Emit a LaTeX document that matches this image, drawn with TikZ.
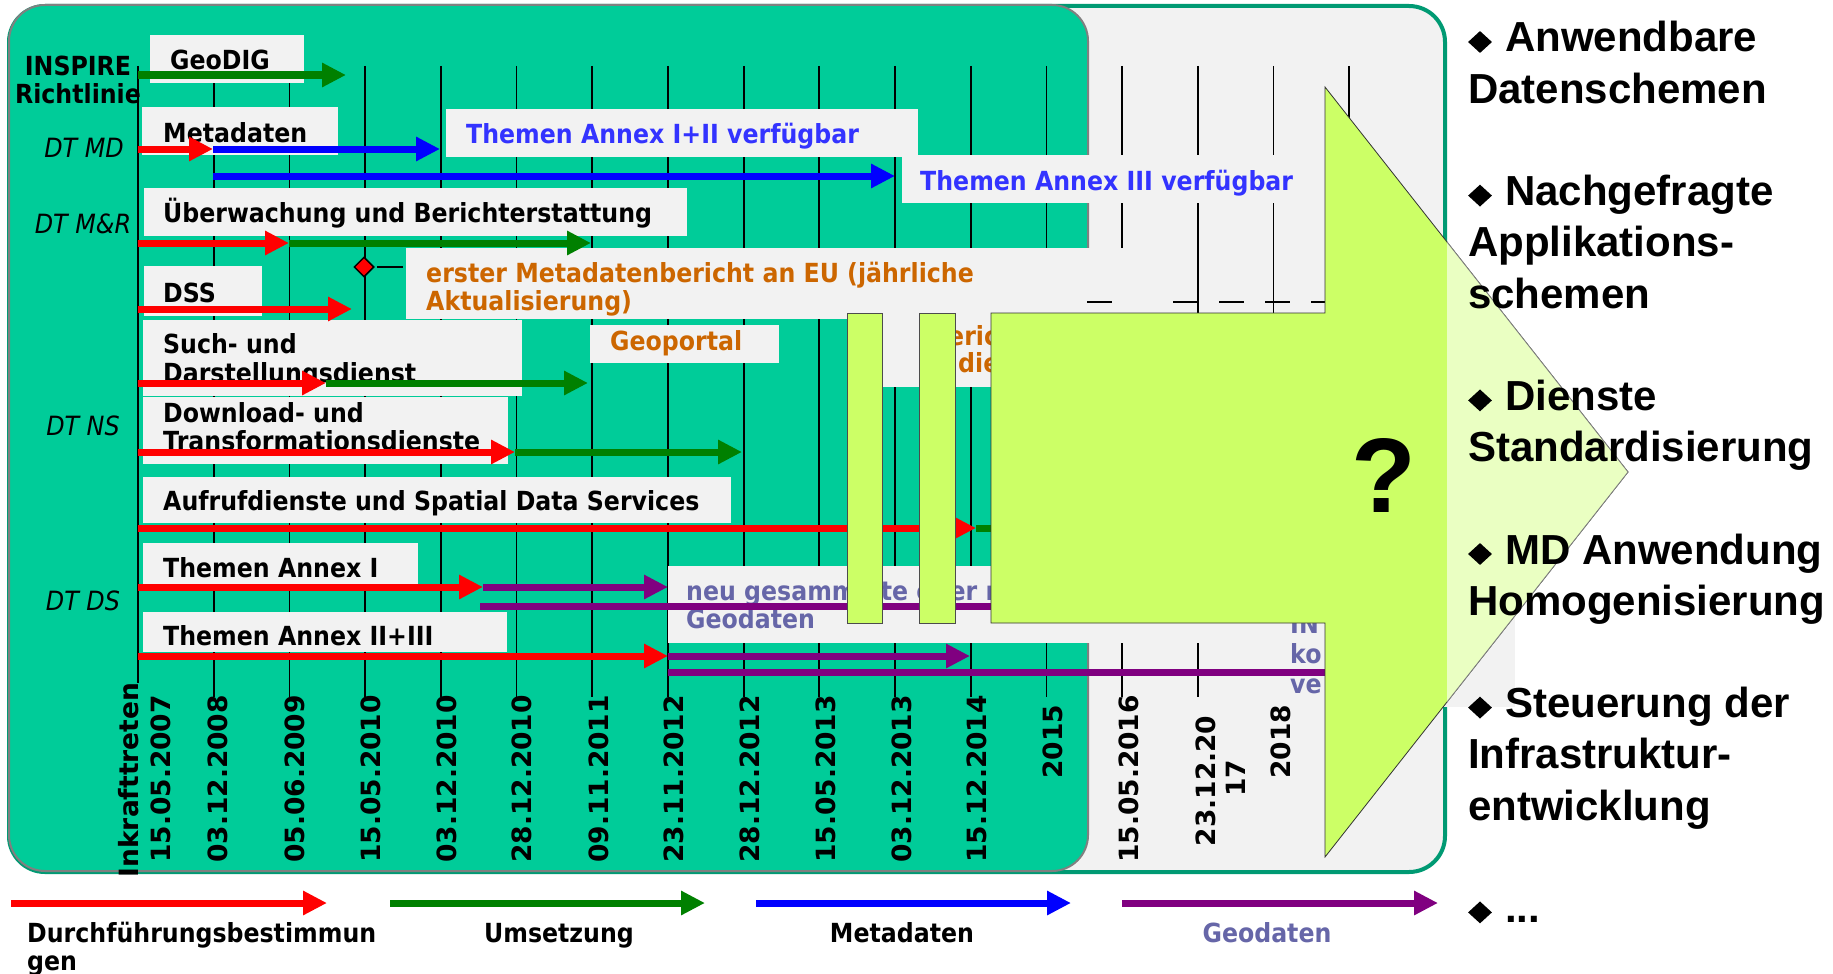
\documentclass[tikz,border=0pt]{standalone}
\usepackage{fontspec}
\usetikzlibrary{arrows.meta,shapes.geometric}
\setmainfont{DejaVu Sans}
\newfontfamily\lblfont[FakeStretch=0.9]{DejaVu Sans}
\newfontfamily\datefont{DejaVu Sans}
\newfontfamily\arialfont{Liberation Sans}
\definecolor{panelgreen}{HTML}{00CC99}
\definecolor{framegreen}{HTML}{009A73}
\definecolor{boxgray}{HTML}{F2F2F2}
\definecolor{umsgreen}{HTML}{008000}
\definecolor{geopurple}{HTML}{800080}
\definecolor{annexblue}{HTML}{3333FF}
\definecolor{noteorange}{HTML}{CC6600}
\definecolor{geogray}{HTML}{6666A8}
\definecolor{lime}{HTML}{CCFF66}
\definecolor{limepale}{HTML}{EAFFC2}
\tikzset{
  tickline/.style={black, line width=1.8pt},
  tl/.style={line width=7pt, -{Triangle[length=24pt,width=23pt]}},
  tlplain/.style={line width=7pt},
  lbl/.style={inner sep=0pt, anchor=base west, font=\lblfont\bfseries\fontsize{26.3pt}{28.5pt}\selectfont},
  dtlbl/.style={inner sep=0pt, anchor=base, font=\lblfont\itshape\fontsize{26.5pt}{28pt}\selectfont},
  datelbl/.style={inner sep=0pt, rotate=90, font=\datefont\bfseries\fontsize{26.5pt}{30pt}\selectfont},
  limebar/.style={fill=lime, draw=black!70, line width=0.8pt},
  bigarrow/.style={fill=lime, draw=black!80, line width=0.8pt},
  bulmark/.style={diamond, fill=black, inner sep=0pt, minimum width=24pt, minimum height=22pt},
  bultext/.style={inner sep=0pt, anchor=base west, font=\arialfont\bfseries\fontsize{42pt}{50pt}\selectfont},
  qmark/.style={inner sep=0pt, anchor=base, font=\arialfont\bfseries\fontsize{106pt}{110pt}\selectfont},
}
\begin{document}
\begin{tikzpicture}[x=1pt, y=-1pt]
  \useasboundingbox (0,0) rectangle (1833,974);
  \fill[white] (0,0) rectangle (1833,974);

  % frames
  \draw[fill=boxgray, draw=framegreen, line width=4pt, rounded corners=36pt] (9,6) rectangle (1445,872);
  \draw[fill=panelgreen, draw=gray, line width=2pt, rounded corners=36pt] (9,5) rectangle (1088,871);

  % timeline ticks
  \foreach \i in {1,...,16}
    \draw[tickline] (138+75.7*\i,66) -- (138+75.7*\i,697);
  \draw[tickline] (138,66) -- (138,683);

  % label boxes
  \fill[boxgray] (150,35) rectangle (304,83);
  \fill[boxgray] (142,107) rectangle (338,155);
  \fill[boxgray] (446,109) rectangle (918,157);
  \fill[boxgray] (902,155) rectangle (1325,203);
  \fill[boxgray] (144,188) rectangle (687,236);
  \fill[boxgray] (144,266) rectangle (262,316);
  \fill[boxgray] (406,248) rectangle (1157,319);
  \fill[boxgray] (852,300) rectangle (1000,387);
  \fill[boxgray] (143,320) rectangle (522,396);
  \fill[boxgray] (590,325) rectangle (779,363);
  \fill[boxgray] (143,397) rectangle (508,464);
  \fill[boxgray] (143,477) rectangle (731,523);
  \fill[boxgray] (143,543) rectangle (418,590);
  \fill[boxgray] (668,566) rectangle (1265,643);
  \fill[boxgray] (143,612) rectangle (507,652);
  \fill[boxgray] (1265,590) rectangle (1515,707);

  % row titles
  \node[lbl, anchor=base] (inspire) at (78,75) {INSPIRE};
  \node[lbl, anchor=base] (richtl) at (78,103) {Richtlinie};
  \node[dtlbl] (dtmd) at (84,157) {DT MD};
  \node[dtlbl] (dtmr) at (83,233) {DT M\&R};
  \node[dtlbl] (dtns) at (83,435) {DT NS};
  \node[dtlbl] (dtds) at (83,610) {DT DS};

  % box texts
  \node[lbl] (geodig) at (170,70) {GeoDIG};
  \node[lbl] (metadaten) at (163,142) {Metadaten};
  \node[lbl, text=annexblue] (annex12) at (466,143) {Themen Annex I+II verfügbar};
  \node[lbl, text=annexblue] (annex3) at (920,190) {Themen Annex III verfügbar};
  \node[lbl] (ueberw) at (163,222) {Überwachung und Berichterstattung};
  \node[lbl] (dss) at (163,302) {DSS};
  \node[lbl, text=noteorange] (erster1) at (426,282) {erster Metadatenbericht an EU (jährliche};
  \node[lbl, text=noteorange] (erster2) at (426,310) {Aktualisierung)};
  \node[lbl] (such1) at (163,353) {Such- und};
  \node[lbl] (such2) at (163,382) {Darstellungsdienst};
  \node[lbl, text=noteorange] (geoportal) at (610,350) {Geoportal};
  \node[lbl, text=noteorange] (beric1) at (948,345) {eric};
  \node[lbl, text=noteorange] (beric2) at (958,372) {die};
  \node[lbl] (down1) at (163,422) {Download- und};
  \node[lbl] (down2) at (163,450) {Transformationsdienste};
  \node[lbl] (aufruf) at (163,510) {Aufrufdienste und Spatial Data Services};
  \node[lbl] (annex1) at (163,577) {Themen Annex I};
  \node[lbl, text=geogray] (neu1) at (686,600) {neu gesammelte oder neu};
  \node[lbl, text=geogray] (neu2) at (686,628) {Geodaten};
  \node[lbl] (annex23) at (163,645) {Themen Annex II+III};
  \node[lbl, text=geogray] (in1) at (1290,633) {IN};
  \node[lbl, text=geogray] (in2) at (1290,663) {ko};
  \node[lbl, text=geogray] (in3) at (1290,693) {ve};

  % first report milestone
  \node[diamond, fill=red, draw=black, line width=1.5pt, inner sep=0pt, minimum width=20pt, minimum height=20pt] (ms) at (364,267) {};
  \draw[tickline] (377,267) -- (403,267);
  \foreach \a in {1087,1173,1219,1265,1311}
    \draw[tickline] (\a,302) -- ++(25,0);

  % time bars
  \draw[tl, umsgreen] (138,75) -- (346,75);
  \draw[tl, blue] (213,149) -- (440,149);
  \draw[tl, red] (138,149) -- (213,149);
  \draw[tl, blue] (213,176) -- (895,176);
  \draw[tl, umsgreen] (289,243) -- (591,243);
  \draw[tl, red] (138,243) -- (289,243);
  \draw[tl, red] (138,309) -- (352,309);
  \draw[tl, umsgreen] (326,383) -- (588,383);
  \draw[tl, red] (138,383) -- (326,383);
  \draw[tl, umsgreen] (515,452) -- (742,452);
  \draw[tl, red] (138,452) -- (515,452);
  \draw[tl, umsgreen] (976,528) -- (1100,528);
  \draw[tl, red] (138,528) -- (976,528);
  \draw[tl, geopurple] (483,587) -- (668,587);
  \draw[tl, red] (138,587) -- (483,587);
  \draw[tlplain, geopurple] (480,606) -- (1000,606);
  \draw[tl, geopurple] (668,656) -- (970,656);
  \draw[tl, red] (138,656) -- (668,656);
  \draw[tlplain, geopurple] (668,672) -- (1330,672);

  % date labels
  \node[datelbl] (inkr) at (128.5,780) {Inkrafttreten};
  \node[datelbl] (date138) at (160.5,779) {15.05.2007};
  \foreach \x/\dlab in {218/03.12.2008, 295/05.06.2009, 371/15.05.2010, 447/03.12.2010, 522/28.12.2010, 599/09.11.2011, 674/23.11.2012, 750/28.12.2012, 826/15.05.2013, 902/03.12.2013, 977/15.12.2014, 1129/15.05.2016}
    \node[datelbl] (date\x) at (\x,779) {\dlab};
  \node[datelbl] (y2015) at (1053,742) {2015};
  \node[datelbl] (date1199a) at (1206,781) {23.12.20};
  \node[datelbl] (date1199b) at (1236,778.5) {17};
  \node[datelbl] (y2018) at (1281,742) {2018};

  % legend
  \draw[tl, red] (11,903) -- (327,903);
  \draw[tl, umsgreen] (390,903) -- (705,903);
  \draw[tl, blue] (756,903) -- (1071,903);
  \draw[tl, geopurple] (1122,903) -- (1438,903);
  \node[lbl] (leg1a) at (27,942) {Durchführungsbestimmun};
  \node[lbl] (leg1b) at (27,970) {gen};
  \node[lbl, anchor=base] (leg2) at (559,942) {Umsetzung};
  \node[lbl, anchor=base] (leg3) at (902,942) {Metadaten};
  \node[lbl, anchor=base, text=geogray] (leg4) at (1267,942) {Geodaten};

  % the big arrow
  \draw[limebar] (847,313) rectangle (882,623);
  \draw[limebar] (919,313) rectangle (955,623);
  \draw[bigarrow] (991,313) -- (1325,313) -- (1325,87) -- (1628,472) -- (1325,857) -- (1325,623) -- (991,623) -- cycle;
  \begin{scope}
    \clip (1447,0) rectangle (1833,974);
    \draw[fill=limepale, draw=gray, line width=0.8pt] (1325,87) -- (1628,472) -- (1325,857) -- cycle;
  \end{scope}
  \node[qmark] (quest) at (1384,512) {?};

  % outlook list
  \foreach \k in {0,3,7,10,13,17}
    \node[bulmark] (dia\k) at (1480,42+51.2*\k) {};
  \foreach \k/\t/\x in {0/Anwendbare/1505, 1/Datenschemen/1468, 3/Nachgefragte/1505, 4/Applikations-/1468, 5/schemen/1468, 7/Dienste/1505, 8/Standardisierung/1468, 10/MD Anwendung/1505, 11/Homogenisierung/1468, 13/Steuerung der/1505, 14/Infrastruktur-/1468, 15/entwicklung/1468}
    \node[bultext] (out\k) at (\x,52+51.2*\k) {\t};
  \node[bultext] (out17) at (1505,922) {.{}.{}.};
\end{tikzpicture}
\end{document}
